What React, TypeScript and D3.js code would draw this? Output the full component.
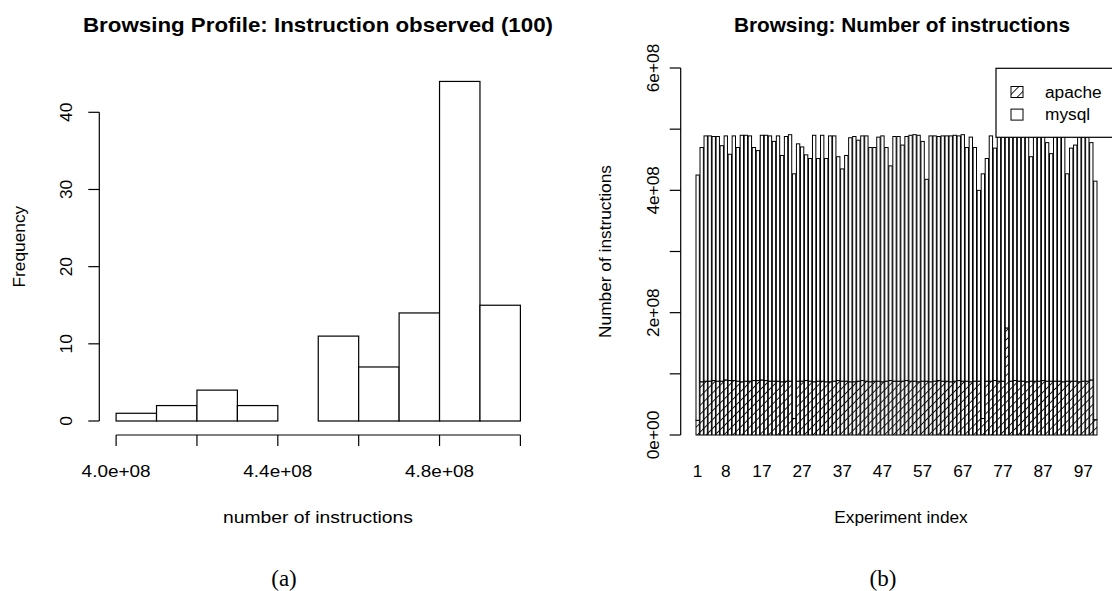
import React from "react";
import * as d3 from "d3";

// ---------- data ----------
// (a) histogram: bin edges and frequencies
const histBreaks = [4.0e8, 4.1e8, 4.2e8, 4.3e8, 4.4e8, 4.5e8, 4.6e8, 4.7e8, 4.8e8, 4.9e8, 5.0e8];
const histCounts = [1, 2, 4, 2, 0, 11, 7, 14, 44, 15];
const histXTicks = [4.0e8, 4.2e8, 4.4e8, 4.6e8, 4.8e8, 5.0e8];
const histXTickLabels = ["4.0e+08", "", "4.4e+08", "", "4.8e+08", ""];
const histYTicks = [0, 10, 20, 30, 40];

// (b) stacked bars, values in units of 1e8 instructions
const apacheValues = [
  0.24, 0.87, 0.88, 0.88, 0.89, 0.88, 0.88, 0.90, 0.89, 0.89,
  0.88, 0.87, 0.88, 0.88, 0.89, 0.89, 0.90, 0.89, 0.88, 0.88,
  0.88, 0.87, 0.88, 0.88, 0.27, 0.88, 0.88, 0.89, 0.88, 0.87,
  0.88, 0.88, 0.87, 0.87, 0.88, 0.89, 0.88, 0.88, 0.87, 0.87,
  0.88, 0.89, 0.88, 0.87, 0.88, 0.88, 0.87, 0.88, 0.89, 0.88,
  0.88, 0.88, 0.89, 0.88, 0.88, 0.87, 0.88, 0.88, 0.87, 0.88,
  0.89, 0.88, 0.88, 0.87, 0.88, 0.89, 0.88, 0.88, 0.87, 0.88,
  0.88, 0.27, 0.88, 0.88, 0.89, 0.88, 0.88, 1.75, 0.88, 0.89,
  0.88, 0.88, 0.87, 0.88, 0.88, 0.88, 0.89, 0.88, 0.88, 0.88,
  0.88, 0.87, 0.88, 0.88, 0.88, 0.87, 0.88, 0.88, 0.90, 0.25,
];
const mysqlValues = [
  4.01, 3.83, 4.01, 4.01, 3.99, 4.00, 3.85, 3.99, 3.70, 4.00,
  3.82, 4.03, 4.02, 4.01, 3.81, 3.76, 4.00, 4.01, 4.01, 3.92,
  4.01, 3.70, 4.00, 4.03, 4.00, 3.88, 3.83, 3.69, 3.64, 4.03,
  3.64, 4.02, 3.65, 4.02, 4.01, 3.66, 3.47, 3.69, 3.99, 4.01,
  3.94, 4.00, 4.01, 3.83, 3.82, 3.99, 4.02, 3.82, 3.51, 4.00,
  4.00, 3.86, 3.99, 4.02, 4.03, 4.03, 3.92, 3.30, 4.02, 4.01,
  3.99, 4.01, 4.01, 4.02, 4.02, 4.00, 4.03, 3.82, 4.00, 3.82,
  3.12, 4.00, 3.64, 4.01, 3.80, 4.02, 4.00, 3.79, 4.00, 3.99,
  4.01, 4.02, 4.01, 3.67, 4.01, 4.01, 4.01, 3.90, 3.72, 3.99,
  4.01, 4.03, 3.39, 3.81, 3.86, 4.00, 3.99, 3.99, 3.88, 3.90,
];
const experimentIndex = apacheValues.map((_, i) => i + 1);
const barXTickLabels = [1, 8, 17, 27, 37, 47, 57, 67, 77, 87, 97];
const barYTicks = [0, 1, 2, 3, 4, 5, 6];
const barYTickLabels = ["0e+00", "", "2e+08", "", "4e+08", "", "6e+08"];
const legendLabels = ["apache", "mysql"];

const FONT = "'Liberation Sans', Arial, Helvetica, sans-serif";
const SERIF = "'Liberation Serif', 'Times New Roman', serif";
const FS = 17.3;

export default function App() {
  // ---------- left: histogram ----------
  const hx = d3.scaleLinear().domain([4.0e8, 5.0e8]).range([116.1, 520.4]);
  const hy = d3.scaleLinear().domain([0, 40]).range([421, 112.3]);
  const histAxisY = 435;
  const histAxisX = 99.3;
  const tick = 11;
  const leftCenter = 318;

  // ---------- right: stacked bar plot ----------
  const barW = 1, space = 0.2;
  const lefts = experimentIndex.map((_, i) => space + i * (barW + space));
  const bx = d3.scaleLinear().domain([0.2, 120]).range([696, 1097]);
  const by = d3.scaleLinear().domain([0, 6]).range([435, 68]);
  const barAxisX = 680.7;

  const stackData = experimentIndex.map((e, i) => ({ e, apache: apacheValues[i], mysql: mysqlValues[i] }));
  const stack = d3.stack<any>().keys(["apache", "mysql"])(stackData);

  return (
    <svg width={1112} height={591} style={{ position: "absolute", left: 0, top: 0, background: "#fff" }}
      fontFamily={FONT}>
      <defs>
        <pattern id="hatch" patternUnits="userSpaceOnUse" width={6.3} height={6.3}
          patternTransform="rotate(45)">
          <line x1={0} y1={0} x2={0} y2={6.3} stroke="#000" strokeWidth={1.7} />
        </pattern>
      </defs>
      <rect x={0} y={0} width={1112} height={591} fill="#fff" />

      {/* ===== (a) histogram ===== */}
      <text x={leftCenter} y={32} textAnchor="middle" fontWeight="bold" fontSize={20.8}
        textLength={470} lengthAdjust="spacingAndGlyphs">
        Browsing Profile: Instruction observed (100)
      </text>
      {histCounts.map((c, i) => (
        <rect key={i} x={hx(histBreaks[i])} y={hy(c)} width={hx(histBreaks[i + 1]) - hx(histBreaks[i])}
          height={hy(0) - hy(c)} fill="#fff" stroke="#000" strokeWidth={1.2} />
      ))}
      {/* x axis */}
      <line x1={hx(histXTicks[0])} x2={hx(histXTicks[histXTicks.length - 1])} y1={histAxisY} y2={histAxisY}
        stroke="#000" strokeWidth={1.2} />
      {histXTicks.map((t, i) => (
        <g key={i}>
          <line x1={hx(t)} x2={hx(t)} y1={histAxisY} y2={histAxisY + tick} stroke="#000" strokeWidth={1.2} />
          {histXTickLabels[i] && (
            <text x={hx(t)} y={476.7} textAnchor="middle" fontSize={FS}
              textLength={69} lengthAdjust="spacingAndGlyphs">{histXTickLabels[i]}</text>
          )}
        </g>
      ))}
      <text x={leftCenter} y={523} textAnchor="middle" fontSize={FS}
        textLength={190} lengthAdjust="spacingAndGlyphs">number of instructions</text>
      {/* y axis */}
      <line x1={histAxisX} x2={histAxisX} y1={hy(0)} y2={hy(40)} stroke="#000" strokeWidth={1.2} />
      {histYTicks.map((t) => (
        <g key={t}>
          <line x1={histAxisX - tick} x2={histAxisX} y1={hy(t)} y2={hy(t)} stroke="#000" strokeWidth={1.2} />
          <text transform={`translate(71.5,${hy(t)}) rotate(-90)`} textAnchor="middle" fontSize={FS}>{t}</text>
        </g>
      ))}
      <text transform={`translate(25,${(hy(0) + hy(40)) / 2 - 20}) rotate(-90)`} textAnchor="middle" fontSize={FS}>
        Frequency
      </text>
      <text x={284} y={586} textAnchor="middle" fontFamily={SERIF} fontSize={23}>(a)</text>

      {/* ===== (b) stacked bars ===== */}
      <text x={902} y={31.5} textAnchor="middle" fontWeight="bold" fontSize={20.8}>
        Browsing: Number of instructions
      </text>
      {stack.map((layer) =>
        layer.map((d, i) => {
          const x = bx(lefts[i]);
          const w = bx(lefts[i] + barW) - bx(lefts[i]);
          const y0 = by(d[0]), y1 = by(d[1]);
          return (
            <g key={layer.key + i}>
              <rect x={x} y={y1} width={w} height={y0 - y1} fill="#fff" stroke="none" />
              {layer.key === "apache" && (
                <rect x={x} y={y1} width={w} height={y0 - y1} fill="url(#hatch)" stroke="none" />
              )}
              <rect x={x} y={y1} width={w} height={y0 - y1} fill="none" stroke="#000" strokeWidth={1} />
            </g>
          );
        })
      )}
      {/* y axis */}
      <line x1={barAxisX} x2={barAxisX} y1={by(0)} y2={by(6)} stroke="#000" strokeWidth={1.2} />
      {barYTicks.map((t, i) => (
        <g key={t}>
          <line x1={barAxisX - tick} x2={barAxisX} y1={by(t)} y2={by(t)} stroke="#000" strokeWidth={1.2} />
          {barYTickLabels[i] && (
            <text transform={`translate(659,${by(t)}) rotate(-90)`} textAnchor="middle" fontSize={FS}>
              {barYTickLabels[i]}
            </text>
          )}
        </g>
      ))}
      <text transform={`translate(611,${(by(0) + by(6)) / 2}) rotate(-90)`} textAnchor="middle" fontSize={FS}>
        Number of instructions
      </text>
      {/* x labels */}
      {barXTickLabels.map((e) => (
        <text key={e} x={bx(lefts[e - 1] + barW / 2)} y={476.7} textAnchor="middle" fontSize={FS}>{e}</text>
      ))}
      <text x={901} y={523} textAnchor="middle" fontSize={FS}>Experiment index</text>
      <text x={883} y={586} textAnchor="middle" fontFamily={SERIF} fontSize={23}>(b)</text>

      {/* legend */}
      <rect x={996} y={68.3} width={140} height={69} fill="#fff" stroke="#000" strokeWidth={1.2} />
      {legendLabels.map((l, i) => (
        <g key={l}>
          <rect x={1011} y={86.5 + i * 22.6} width={12} height={11} fill="#fff" stroke="none" />
          {i === 0 && <rect x={1011} y={86.5} width={12} height={11} fill="url(#hatch)" />}
          <rect x={1011} y={86.5 + i * 22.6} width={12} height={11} fill="none" stroke="#000" strokeWidth={1} />
          <text x={1045} y={97.8 + i * 22.6} fontSize={FS}>{l}</text>
        </g>
      ))}
    </svg>
  );
}
